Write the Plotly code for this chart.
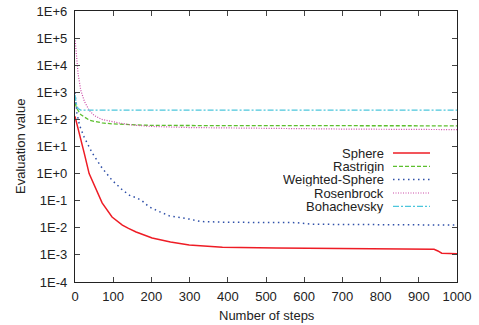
import plotly.graph_objects as go

# ---- data ----
sphere_x = [0, 5, 10, 24, 37, 55, 71, 97, 124, 140, 160, 202, 250, 299, 386, 527, 745, 940, 950, 960, 1000]
sphere_y = [130, 70, 35, 5.8, 1.0, 0.25, 0.083, 0.025, 0.0126, 0.0095, 0.007, 0.0042, 0.003, 0.0023, 0.0019,
            0.0018, 0.0017, 0.0016, 0.0014, 0.00115, 0.0011]

rastrigin_x = [0, 5, 15, 25, 37, 50, 71, 100, 150, 200, 400, 1000]
rastrigin_y = [400, 250, 150, 120, 95, 85, 74, 68, 62, 60, 59, 58]

wsphere_x = [0, 5, 12, 24, 45, 71, 97, 124, 145, 160, 175, 194, 220, 247, 299, 330, 400, 580, 620, 800, 1000]
wsphere_y = [1000, 170, 60, 22, 5.8, 1.6, 0.57, 0.25, 0.15, 0.13, 0.1, 0.059, 0.04, 0.0275, 0.021, 0.017,
             0.016, 0.0155, 0.0135, 0.013, 0.0126]

rosen_x = [0, 3, 8, 15, 25, 37, 50, 70, 90, 115, 150, 200, 300, 500, 700, 1000]
rosen_y = [1e5, 3e4, 5000, 1200, 450, 220, 140, 100, 85, 74, 62, 55, 50, 46, 44, 42]

boha_x = [0, 3, 8, 15, 1000]
boha_y = [800, 400, 250, 220, 220]

series_names = ["Sphere", "Rastrigin", "Weighted-Sphere", "Rosenbrock", "Bohachevsky"]
x_ticks = [0, 100, 200, 300, 400, 500, 600, 700, 800, 900, 1000]
y_tickvals = [1e-4, 1e-3, 1e-2, 1e-1, 1e0, 1e1, 1e2, 1e3, 1e4, 1e5, 1e6]
y_ticktext = ["1E-4", "1E-3", "1E-2", "1E-1", "1E+0", "1E+1", "1E+2", "1E+3", "1E+4", "1E+5", "1E+6"]

# ---- styles ----
styles = [
    dict(color="#ee1c25", dash="solid", width=1.5),
    dict(color="#5cbf2e", dash="4px,2px", width=1.3),
    dict(color="#2e4fa8", dash="1.5px,3.5px", width=1.5),
    dict(color="#cc4ca8", dash="1px,1.5px", width=1.2),
    dict(color="#4cc6dc", dash="6px,2px,2px,2px", width=1.3),
]
data = [(sphere_x, sphere_y), (rastrigin_x, rastrigin_y), (wsphere_x, wsphere_y),
        (rosen_x, rosen_y), (boha_x, boha_y)]

fig = go.Figure()
for name, (xs, ys), st in zip(series_names, data, styles):
    fig.add_trace(go.Scatter(x=xs, y=ys, mode="lines", name=name, line=st, showlegend=False))

# custom gnuplot-style legend (text right-aligned, sample to the right)
W, H = 479, 325
ml, mr, mt, mb = 75, 22, 11, 43
pw, ph = W - ml - mr, H - mt - mb
def px(xp):
    return (xp - ml) / pw
def py(yp):
    return 1 - (yp - mt) / ph

FS = 13
legend_rows = [153, 166.3, 179.6, 193, 206.3]
for name, st, yr in zip(series_names, styles, legend_rows):
    fig.add_annotation(x=px(385), y=py(yr), xref="paper", yref="paper", text=name, showarrow=False,
                       xanchor="right", yanchor="middle", height=13.2, borderpad=0, valign="middle",
                       font=dict(size=FS, color="#222"))
    fig.add_shape(type="line", xref="paper", yref="paper", x0=px(393), x1=px(430), y0=py(yr), y1=py(yr),
                  line=dict(color=st["color"], dash=st["dash"], width=st["width"]))

# axis titles as annotations
fig.add_annotation(x=px(267), y=py(315), xref="paper", yref="paper", text="Number of steps",
                   showarrow=False, xanchor="center", yanchor="middle", font=dict(size=FS, color="#222"))
fig.add_annotation(x=px(20), y=py(146), xref="paper", yref="paper", text="Evaluation value",
                   showarrow=False, textangle=-90, xanchor="center", yanchor="middle",
                   font=dict(size=FS, color="#222"))

axis_common = dict(showline=True, linecolor="#222", linewidth=1.2, mirror="ticks", ticks="inside",
                   ticklen=5, tickcolor="#444", tickwidth=1, showgrid=False, zeroline=False,
                   automargin=False, tickfont=dict(size=FS, color="#222"))

fig.update_layout(
    width=W, height=H,
    margin=dict(l=ml, r=mr, t=mt, b=mb),
    paper_bgcolor="white", plot_bgcolor="white",
    font=dict(family="Liberation Sans, Arial, sans-serif", size=FS, color="#222"),
    xaxis=dict(range=[0, 1000], tickvals=x_ticks, ticklabelstandoff=2, **axis_common),
    yaxis=dict(type="log", range=[-4, 6], tickvals=y_tickvals, ticktext=y_ticktext,
               ticklabelstandoff=4, **axis_common),
)

fig.write_html("out.html", config={"displayModeBar": False},
               post_script="document.body.style.margin='0px';")
